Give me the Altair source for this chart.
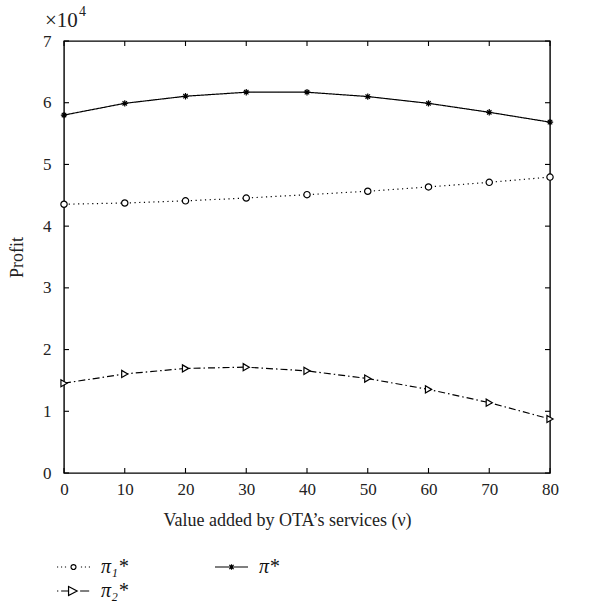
import altair as alt
import pandas as pd

v_values = [0, 10, 20, 30, 40, 50, 60, 70, 80]
pi_total = [58000, 59900, 61050, 61700, 61700, 61000, 59900, 58450, 56850]
pi_1 = [43550, 43750, 44100, 44550, 45100, 45650, 46350, 47100, 47950]
pi_2 = [14550, 16050, 16950, 17150, 16550, 15300, 13550, 11400, 8750]
x_ticks = [0, 10, 20, 30, 40, 50, 60, 70, 80]
y_ticks = [0, 10000, 20000, 30000, 40000, 50000, 60000, 70000]

S1, S2, ST = "π₁*", "π₂*", "π*"
legend_order = [S1, ST, S2]

rows = []
for name, vals in [(S1, pi_1), (S2, pi_2), (ST, pi_total)]:
    for v, p in zip(v_values, vals):
        rows.append({"v": v, "profit": p, "series": name})
df = pd.DataFrame(rows)

W, H = 486, 432
FONT = "Liberation Serif"

xs = alt.Scale(domain=[0, 80], nice=False, zero=False)
ys = alt.Scale(domain=[0, 70000], nice=False)

base = alt.Chart(df)

x_axis = alt.Axis(values=x_ticks, title="Value added by OTA’s services (ν)", ticks=False,
                  domain=False, grid=False, labelPadding=8, titlePadding=14,
                  labelFlush=False, titleX=223, titleAlign="center")
y_axis = alt.Axis(values=y_ticks, labelExpr="datum.value / 10000", title="Profit", ticks=False,
                  domain=False, grid=False, labelPadding=13, titlePadding=16,
                  labelFlush=False)

X = alt.X("v:Q", scale=xs, axis=x_axis)
Y = alt.Y("profit:Q", scale=ys, axis=y_axis)

asterisk = "M-1,0L1,0M0,-1L0,1M-0.7,-0.7L0.7,0.7M-0.7,0.7L0.7,-0.7"

def series_layer(name, dash, shape, size):
    d = base.transform_filter(alt.datum.series == name)
    line = d.mark_line(color="black", strokeWidth=1.2, strokeDash=dash).encode(x=X, y=Y)
    pts = d.mark_point(shape=shape, size=size, color="black", fill="white", filled=False,
                       strokeWidth=1.2, opacity=1).encode(x=X, y=Y)
    return [line, pts]

layers = []
layers += series_layer(ST, [1, 0], asterisk, 40)
layers += series_layer(S1, [1.2, 3.5], "circle", 40)
layers += series_layer(S2, [7, 3, 1.5, 3], "triangle-right", 50)

leg_paths = [
    "M-1,0h0.07M-0.76,0h0.07M-0.52,0h0.07M0.15,0A0.15,0.15 0 1,1 -0.15,0A0.15,0.15 0 1,1 0.15,0M0.45,0h0.07M0.69,0h0.07M0.93,0h0.07",
    "M-1,0L1,0M-0.13,-0.13L0.13,0.13M-0.13,0.13L0.13,-0.13M0,-0.16L0,0.16",
    "M-1,0h0.08M-0.75,0L-0.3,0M-0.3,-0.27L0.22,0L-0.3,0.27Z M0.4,0L0.95,0",
]

legend_layer = base.mark_point(opacity=0, color="black", filled=False).encode(
    x=X, y=Y,
    shape=alt.Shape("series:N", scale=alt.Scale(domain=legend_order, range=leg_paths),
                    legend=alt.Legend(title=None, orient="none", legendX=-8, legendY=515,
                                      columns=2, columnPadding=86, rowPadding=2,
                                      symbolSize=1089, clipHeight=22, symbolOpacity=1,
                                      symbolStrokeColor="black", symbolStrokeWidth=1.2,
                                      symbolFillColor="white", labelFont=FONT,
                                      labelFontSize=20, labelFontStyle="italic",
                                      labelColor="#111", labelOffset=10,
                                      direction="horizontal")),
)
layers.append(legend_layer)

xt = pd.DataFrame({"v": x_ticks})
yt = pd.DataFrame({"profit": y_ticks})
tick_x_bottom = alt.Chart(xt).mark_rule(color="black", strokeWidth=1.1).encode(
    x=X, y=alt.value(H), y2=alt.value(H - 5))
tick_x_top = alt.Chart(xt).mark_rule(color="black", strokeWidth=1.1).encode(
    x=X, y=alt.value(0), y2=alt.value(5))
tick_y_left = alt.Chart(yt).mark_rule(color="black", strokeWidth=1.1).encode(
    y=Y, x=alt.value(0), x2=alt.value(5))
tick_y_right = alt.Chart(yt).mark_rule(color="black", strokeWidth=1.1).encode(
    y=Y, x=alt.value(W), x2=alt.value(W - 5))
layers += [tick_x_bottom, tick_x_top, tick_y_left, tick_y_right]

one = alt.Data(values=[{"a": 1}])
exp_text = alt.Chart(one).mark_text(
    text="×10", font=FONT, fontSize=21, align="left", baseline="alphabetic", color="#222"
).encode(x=alt.value(-19), y=alt.value(-14))
exp_sup = alt.Chart(one).mark_text(
    text="4", font=FONT, fontSize=14, align="left", baseline="alphabetic", color="#222"
).encode(x=alt.value(15), y=alt.value(-25))
layers += [exp_text, exp_sup]

chart = alt.layer(*layers).properties(
    width=W, height=H,
    autosize=alt.AutoSizeParams(type="none"),
    padding={"left": 64, "top": 41, "right": 47, "bottom": 139},
    background="white",
).configure_view(
    stroke="black", strokeWidth=1.4
).configure_axis(
    labelFont=FONT, labelFontSize=17, labelColor="#222",
    titleFont=FONT, titleFontSize=18, titleColor="#222", titleFontWeight="normal",
)

chart.save("out.html", embed_options={"renderer": "svg", "actions": False})
